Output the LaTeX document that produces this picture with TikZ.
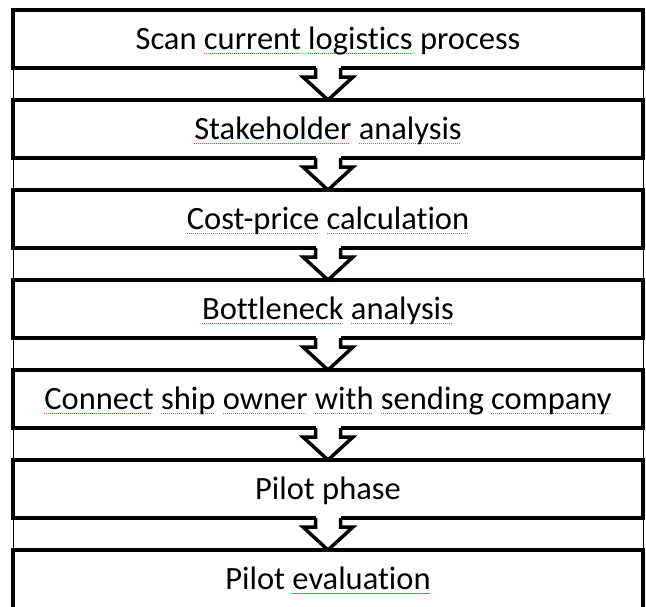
\documentclass[tikz,border=0pt]{standalone}
\usepackage{fontspec}
\setmainfont{Carlito}[Ligatures=NoCommon]
\usetikzlibrary{calc}
\definecolor{squig}{RGB}{232,90,90}
\newsavebox\sqbox
\newcommand\sqw[1]{\sbox\sqbox{#1}\makebox[0pt][l]{\color{squig}\raisebox{-4pt}{\hbox to \wd\sqbox{\leaders\hbox{\rule{1.1pt}{0.9pt}\kern0.9pt}\hfill}}}\usebox\sqbox}
\tikzset{
  stagebox/.style={draw, line width=3.5pt, minimum width=630pt, minimum height=58pt,
    inner sep=0pt, outer sep=0pt, font=\fontsize{32.5}{39}\selectfont,
    text height=21pt, text depth=0pt},
  openbox/.style={line width=3.5pt},
  flowarrow/.style={draw, line width=3.5pt, line join=miter, fill=white},
  frameline/.style={draw, line width=1pt}
}
\begin{document}
\begin{tikzpicture}[x=1pt,y=-1pt]
\useasboundingbox (0,0) rectangle (646,606);
\node[stagebox] (b1) at (328,39)  {Scan \sqw{current} \sqw{logistics} process};
\node[stagebox] (b2) at (328,129) {\sqw{Stakeholder} \sqw{analysis}};
\node[stagebox] (b3) at (328,219) {\sqw{Cost-price} \sqw{calculation}};
\node[stagebox] (b4) at (328,309) {\sqw{Bottleneck} \sqw{analysis}};
\node[stagebox] (b5) at (328,399) {\sqw{Connect} \sqw{ship} \sqw{owner} \sqw{with} \sqw{sending} \sqw{company}};
\node[stagebox] (b6) at (328,489) {Pilot phase};
\node[stagebox, draw=none] (b7) at (328,579) {Pilot \sqw{evaluation}};
\draw[openbox] ([yshift=-12pt]b7.south west) -- (b7.north west) -- (b7.north east) -- ([yshift=-12pt]b7.south east);
\draw[frameline] (b1.north west) -- (b7.south west);
\draw[frameline] (b1.north east) -- (b7.south east);
\foreach \a/\b in {b1/b2,b2/b3,b3/b4,b4/b5,b5/b6,b6/b7}{
  \fill[white] ([xshift=-12.5pt,yshift=2.5pt]\a.south) rectangle ([xshift=12.5pt,yshift=-1pt]\a.south);
  \draw[flowarrow] ([xshift=-12.5pt]\a.south) -- ([xshift=-12.5pt,yshift=-9pt]\a.south)
    -- ([xshift=-25pt,yshift=-9pt]\a.south) -- (\b.north)
    -- ([xshift=25pt,yshift=-9pt]\a.south) -- ([xshift=12.5pt,yshift=-9pt]\a.south)
    -- ([xshift=12.5pt]\a.south);
}
\end{tikzpicture}
\end{document}
